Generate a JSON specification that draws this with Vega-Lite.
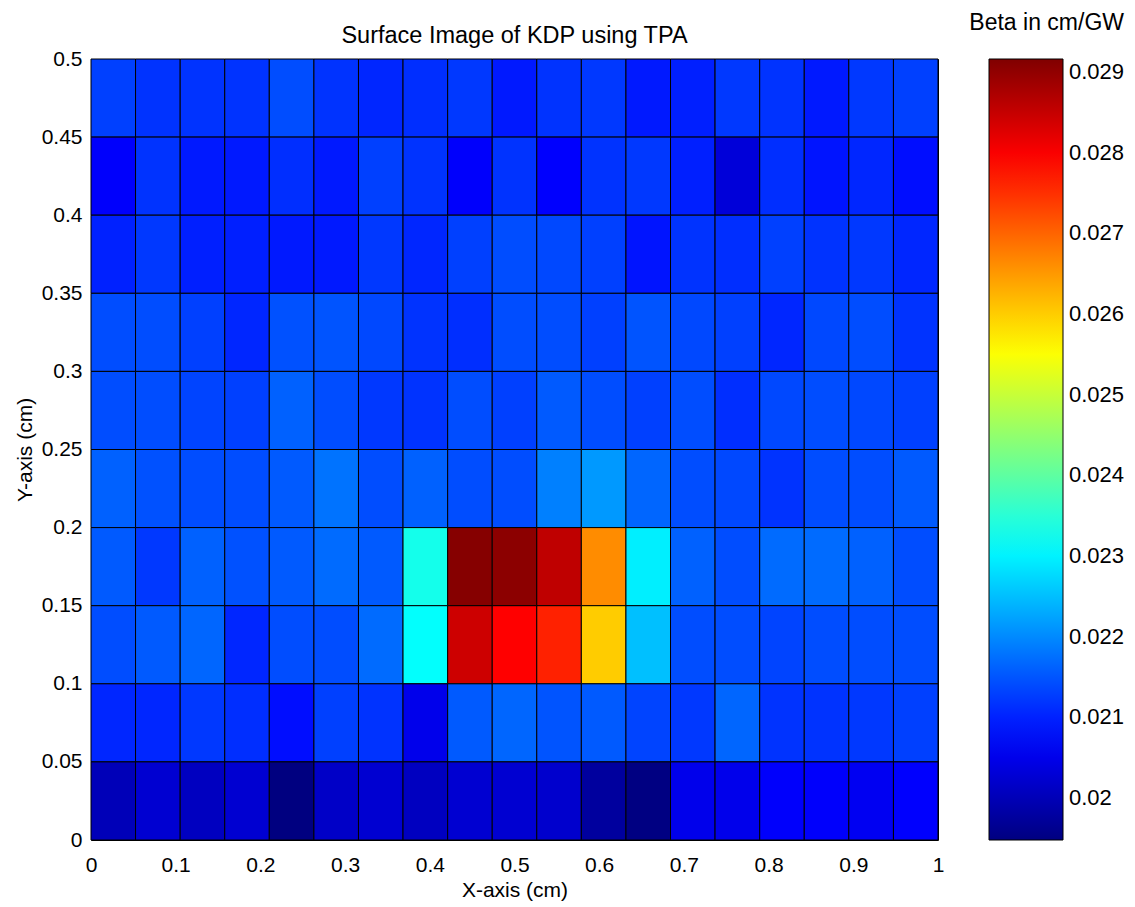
{
  "$schema": "https://vega.github.io/schema/vega-lite/v6.json",
  "width": 847,
  "height": 781,
  "autosize": {"type": "none"},
  "padding": {"left": 91, "top": 59, "right": 197, "bottom": 67},
  "background": "white",
  "title": {"text": "Surface Image of KDP using TPA", "fontSize": 23.5, "fontWeight": "normal", "font": "Liberation Sans", "anchor": "middle", "frame": "group", "offset": 0, "dy": 35, "color": "black"},
  "data": {"values": [
    {"x0":0,"x1":0.0526,"y0":0.45,"y1":0.5,"beta":0.02130},
    {"x0":0.0526,"x1":0.1053,"y0":0.45,"y1":0.5,"beta":0.02117},
    {"x0":0.1053,"x1":0.1579,"y0":0.45,"y1":0.5,"beta":0.02117},
    {"x0":0.1579,"x1":0.2105,"y0":0.45,"y1":0.5,"beta":0.02117},
    {"x0":0.2105,"x1":0.2632,"y0":0.45,"y1":0.5,"beta":0.02142},
    {"x0":0.2632,"x1":0.3158,"y0":0.45,"y1":0.5,"beta":0.02117},
    {"x0":0.3158,"x1":0.3684,"y0":0.45,"y1":0.5,"beta":0.02105},
    {"x0":0.3684,"x1":0.4211,"y0":0.45,"y1":0.5,"beta":0.02113},
    {"x0":0.4211,"x1":0.4737,"y0":0.45,"y1":0.5,"beta":0.02122},
    {"x0":0.4737,"x1":0.5263,"y0":0.45,"y1":0.5,"beta":0.02093},
    {"x0":0.5263,"x1":0.5789,"y0":0.45,"y1":0.5,"beta":0.02117},
    {"x0":0.5789,"x1":0.6316,"y0":0.45,"y1":0.5,"beta":0.02122},
    {"x0":0.6316,"x1":0.6842,"y0":0.45,"y1":0.5,"beta":0.02093},
    {"x0":0.6842,"x1":0.7368,"y0":0.45,"y1":0.5,"beta":0.02098},
    {"x0":0.7368,"x1":0.7895,"y0":0.45,"y1":0.5,"beta":0.02122},
    {"x0":0.7895,"x1":0.8421,"y0":0.45,"y1":0.5,"beta":0.02117},
    {"x0":0.8421,"x1":0.8947,"y0":0.45,"y1":0.5,"beta":0.02093},
    {"x0":0.8947,"x1":0.9474,"y0":0.45,"y1":0.5,"beta":0.02122},
    {"x0":0.9474,"x1":1,"y0":0.45,"y1":0.5,"beta":0.02130},

    {"x0":0,"x1":0.0526,"y0":0.4,"y1":0.45,"beta":0.02066},
    {"x0":0.0526,"x1":0.1053,"y0":0.4,"y1":0.45,"beta":0.02117},
    {"x0":0.1053,"x1":0.1579,"y0":0.4,"y1":0.45,"beta":0.02093},
    {"x0":0.1579,"x1":0.2105,"y0":0.4,"y1":0.45,"beta":0.02093},
    {"x0":0.2105,"x1":0.2632,"y0":0.4,"y1":0.45,"beta":0.02113},
    {"x0":0.2632,"x1":0.3158,"y0":0.4,"y1":0.45,"beta":0.02093},
    {"x0":0.3158,"x1":0.3684,"y0":0.4,"y1":0.45,"beta":0.02130},
    {"x0":0.3684,"x1":0.4211,"y0":0.4,"y1":0.45,"beta":0.02117},
    {"x0":0.4211,"x1":0.4737,"y0":0.4,"y1":0.45,"beta":0.02066},
    {"x0":0.4737,"x1":0.5263,"y0":0.4,"y1":0.45,"beta":0.02117},
    {"x0":0.5263,"x1":0.5789,"y0":0.4,"y1":0.45,"beta":0.02068},
    {"x0":0.5789,"x1":0.6316,"y0":0.4,"y1":0.45,"beta":0.02117},
    {"x0":0.6316,"x1":0.6842,"y0":0.4,"y1":0.45,"beta":0.02122},
    {"x0":0.6842,"x1":0.7368,"y0":0.4,"y1":0.45,"beta":0.02098},
    {"x0":0.7368,"x1":0.7895,"y0":0.4,"y1":0.45,"beta":0.02033},
    {"x0":0.7895,"x1":0.8421,"y0":0.4,"y1":0.45,"beta":0.02113},
    {"x0":0.8421,"x1":0.8947,"y0":0.4,"y1":0.45,"beta":0.02088},
    {"x0":0.8947,"x1":0.9474,"y0":0.4,"y1":0.45,"beta":0.02105},
    {"x0":0.9474,"x1":1,"y0":0.4,"y1":0.45,"beta":0.02081},

    {"x0":0,"x1":0.0526,"y0":0.35,"y1":0.4,"beta":0.02100},
    {"x0":0.0526,"x1":0.1053,"y0":0.35,"y1":0.4,"beta":0.02122},
    {"x0":0.1053,"x1":0.1579,"y0":0.35,"y1":0.4,"beta":0.02098},
    {"x0":0.1579,"x1":0.2105,"y0":0.35,"y1":0.4,"beta":0.02098},
    {"x0":0.2105,"x1":0.2632,"y0":0.35,"y1":0.4,"beta":0.02093},
    {"x0":0.2632,"x1":0.3158,"y0":0.35,"y1":0.4,"beta":0.02093},
    {"x0":0.3158,"x1":0.3684,"y0":0.35,"y1":0.4,"beta":0.02122},
    {"x0":0.3684,"x1":0.4211,"y0":0.35,"y1":0.4,"beta":0.02105},
    {"x0":0.4211,"x1":0.4737,"y0":0.35,"y1":0.4,"beta":0.02130},
    {"x0":0.4737,"x1":0.5263,"y0":0.35,"y1":0.4,"beta":0.02142},
    {"x0":0.5263,"x1":0.5789,"y0":0.35,"y1":0.4,"beta":0.02137},
    {"x0":0.5789,"x1":0.6316,"y0":0.35,"y1":0.4,"beta":0.02130},
    {"x0":0.6316,"x1":0.6842,"y0":0.35,"y1":0.4,"beta":0.02088},
    {"x0":0.6842,"x1":0.7368,"y0":0.35,"y1":0.4,"beta":0.02117},
    {"x0":0.7368,"x1":0.7895,"y0":0.35,"y1":0.4,"beta":0.02113},
    {"x0":0.7895,"x1":0.8421,"y0":0.35,"y1":0.4,"beta":0.02130},
    {"x0":0.8421,"x1":0.8947,"y0":0.35,"y1":0.4,"beta":0.02117},
    {"x0":0.8947,"x1":0.9474,"y0":0.35,"y1":0.4,"beta":0.02122},
    {"x0":0.9474,"x1":1,"y0":0.35,"y1":0.4,"beta":0.02105},

    {"x0":0,"x1":0.0526,"y0":0.3,"y1":0.35,"beta":0.02142},
    {"x0":0.0526,"x1":0.1053,"y0":0.3,"y1":0.35,"beta":0.02142},
    {"x0":0.1053,"x1":0.1579,"y0":0.3,"y1":0.35,"beta":0.02130},
    {"x0":0.1579,"x1":0.2105,"y0":0.3,"y1":0.35,"beta":0.02105},
    {"x0":0.2105,"x1":0.2632,"y0":0.3,"y1":0.35,"beta":0.02146},
    {"x0":0.2632,"x1":0.3158,"y0":0.3,"y1":0.35,"beta":0.02149},
    {"x0":0.3158,"x1":0.3684,"y0":0.3,"y1":0.35,"beta":0.02137},
    {"x0":0.3684,"x1":0.4211,"y0":0.3,"y1":0.35,"beta":0.02117},
    {"x0":0.4211,"x1":0.4737,"y0":0.3,"y1":0.35,"beta":0.02113},
    {"x0":0.4737,"x1":0.5263,"y0":0.3,"y1":0.35,"beta":0.02142},
    {"x0":0.5263,"x1":0.5789,"y0":0.3,"y1":0.35,"beta":0.02142},
    {"x0":0.5789,"x1":0.6316,"y0":0.3,"y1":0.35,"beta":0.02130},
    {"x0":0.6316,"x1":0.6842,"y0":0.3,"y1":0.35,"beta":0.02149},
    {"x0":0.6842,"x1":0.7368,"y0":0.3,"y1":0.35,"beta":0.02137},
    {"x0":0.7368,"x1":0.7895,"y0":0.3,"y1":0.35,"beta":0.02130},
    {"x0":0.7895,"x1":0.8421,"y0":0.3,"y1":0.35,"beta":0.02105},
    {"x0":0.8421,"x1":0.8947,"y0":0.3,"y1":0.35,"beta":0.02137},
    {"x0":0.8947,"x1":0.9474,"y0":0.3,"y1":0.35,"beta":0.02142},
    {"x0":0.9474,"x1":1,"y0":0.3,"y1":0.35,"beta":0.02117},

    {"x0":0,"x1":0.0526,"y0":0.25,"y1":0.3,"beta":0.02142},
    {"x0":0.0526,"x1":0.1053,"y0":0.25,"y1":0.3,"beta":0.02142},
    {"x0":0.1053,"x1":0.1579,"y0":0.25,"y1":0.3,"beta":0.02134},
    {"x0":0.1579,"x1":0.2105,"y0":0.25,"y1":0.3,"beta":0.02130},
    {"x0":0.2105,"x1":0.2632,"y0":0.25,"y1":0.3,"beta":0.02161},
    {"x0":0.2632,"x1":0.3158,"y0":0.25,"y1":0.3,"beta":0.02142},
    {"x0":0.3158,"x1":0.3684,"y0":0.25,"y1":0.3,"beta":0.02122},
    {"x0":0.3684,"x1":0.4211,"y0":0.25,"y1":0.3,"beta":0.02117},
    {"x0":0.4211,"x1":0.4737,"y0":0.25,"y1":0.3,"beta":0.02142},
    {"x0":0.4737,"x1":0.5263,"y0":0.25,"y1":0.3,"beta":0.02130},
    {"x0":0.5263,"x1":0.5789,"y0":0.25,"y1":0.3,"beta":0.02154},
    {"x0":0.5789,"x1":0.6316,"y0":0.25,"y1":0.3,"beta":0.02142},
    {"x0":0.6316,"x1":0.6842,"y0":0.25,"y1":0.3,"beta":0.02130},
    {"x0":0.6842,"x1":0.7368,"y0":0.25,"y1":0.3,"beta":0.02142},
    {"x0":0.7368,"x1":0.7895,"y0":0.25,"y1":0.3,"beta":0.02113},
    {"x0":0.7895,"x1":0.8421,"y0":0.25,"y1":0.3,"beta":0.02137},
    {"x0":0.8421,"x1":0.8947,"y0":0.25,"y1":0.3,"beta":0.02142},
    {"x0":0.8947,"x1":0.9474,"y0":0.25,"y1":0.3,"beta":0.02137},
    {"x0":0.9474,"x1":1,"y0":0.25,"y1":0.3,"beta":0.02130},

    {"x0":0,"x1":0.0526,"y0":0.2,"y1":0.25,"beta":0.02161},
    {"x0":0.0526,"x1":0.1053,"y0":0.2,"y1":0.25,"beta":0.02146},
    {"x0":0.1053,"x1":0.1579,"y0":0.2,"y1":0.25,"beta":0.02142},
    {"x0":0.1579,"x1":0.2105,"y0":0.2,"y1":0.25,"beta":0.02142},
    {"x0":0.2105,"x1":0.2632,"y0":0.2,"y1":0.25,"beta":0.02154},
    {"x0":0.2632,"x1":0.3158,"y0":0.2,"y1":0.25,"beta":0.02178},
    {"x0":0.3158,"x1":0.3684,"y0":0.2,"y1":0.25,"beta":0.02142},
    {"x0":0.3684,"x1":0.4211,"y0":0.2,"y1":0.25,"beta":0.02161},
    {"x0":0.4211,"x1":0.4737,"y0":0.2,"y1":0.25,"beta":0.02142},
    {"x0":0.4737,"x1":0.5263,"y0":0.2,"y1":0.25,"beta":0.02142},
    {"x0":0.5263,"x1":0.5789,"y0":0.2,"y1":0.25,"beta":0.02190},
    {"x0":0.5789,"x1":0.6316,"y0":0.2,"y1":0.25,"beta":0.02214},
    {"x0":0.6316,"x1":0.6842,"y0":0.2,"y1":0.25,"beta":0.02166},
    {"x0":0.6842,"x1":0.7368,"y0":0.2,"y1":0.25,"beta":0.02142},
    {"x0":0.7368,"x1":0.7895,"y0":0.2,"y1":0.25,"beta":0.02137},
    {"x0":0.7895,"x1":0.8421,"y0":0.2,"y1":0.25,"beta":0.02117},
    {"x0":0.8421,"x1":0.8947,"y0":0.2,"y1":0.25,"beta":0.02142},
    {"x0":0.8947,"x1":0.9474,"y0":0.2,"y1":0.25,"beta":0.02142},
    {"x0":0.9474,"x1":1,"y0":0.2,"y1":0.25,"beta":0.02154},

    {"x0":0,"x1":0.0526,"y0":0.15,"y1":0.2,"beta":0.02154},
    {"x0":0.0526,"x1":0.1053,"y0":0.15,"y1":0.2,"beta":0.02122},
    {"x0":0.1053,"x1":0.1579,"y0":0.15,"y1":0.2,"beta":0.02161},
    {"x0":0.1579,"x1":0.2105,"y0":0.15,"y1":0.2,"beta":0.02146},
    {"x0":0.2105,"x1":0.2632,"y0":0.15,"y1":0.2,"beta":0.02154},
    {"x0":0.2632,"x1":0.3158,"y0":0.15,"y1":0.2,"beta":0.02171},
    {"x0":0.3158,"x1":0.3684,"y0":0.15,"y1":0.2,"beta":0.02154},
    {"x0":0.3684,"x1":0.4211,"y0":0.15,"y1":0.2,"beta":0.02330},
    {"x0":0.4211,"x1":0.4737,"y0":0.15,"y1":0.2,"beta":0.02910},
    {"x0":0.4737,"x1":0.5263,"y0":0.15,"y1":0.2,"beta":0.02905},
    {"x0":0.5263,"x1":0.5789,"y0":0.15,"y1":0.2,"beta":0.02856},
    {"x0":0.5789,"x1":0.6316,"y0":0.15,"y1":0.2,"beta":0.02662},
    {"x0":0.6316,"x1":0.6842,"y0":0.15,"y1":0.2,"beta":0.02296},
    {"x0":0.6842,"x1":0.7368,"y0":0.15,"y1":0.2,"beta":0.02161},
    {"x0":0.7368,"x1":0.7895,"y0":0.15,"y1":0.2,"beta":0.02142},
    {"x0":0.7895,"x1":0.8421,"y0":0.15,"y1":0.2,"beta":0.02171},
    {"x0":0.8421,"x1":0.8947,"y0":0.15,"y1":0.2,"beta":0.02171},
    {"x0":0.8947,"x1":0.9474,"y0":0.15,"y1":0.2,"beta":0.02161},
    {"x0":0.9474,"x1":1,"y0":0.15,"y1":0.2,"beta":0.02142},

    {"x0":0,"x1":0.0526,"y0":0.1,"y1":0.15,"beta":0.02142},
    {"x0":0.0526,"x1":0.1053,"y0":0.1,"y1":0.15,"beta":0.02154},
    {"x0":0.1053,"x1":0.1579,"y0":0.1,"y1":0.15,"beta":0.02166},
    {"x0":0.1579,"x1":0.2105,"y0":0.1,"y1":0.15,"beta":0.02105},
    {"x0":0.2105,"x1":0.2632,"y0":0.1,"y1":0.15,"beta":0.02142},
    {"x0":0.2632,"x1":0.3158,"y0":0.1,"y1":0.15,"beta":0.02142},
    {"x0":0.3158,"x1":0.3684,"y0":0.1,"y1":0.15,"beta":0.02171},
    {"x0":0.3684,"x1":0.4211,"y0":0.1,"y1":0.15,"beta":0.02313},
    {"x0":0.4211,"x1":0.4737,"y0":0.1,"y1":0.15,"beta":0.02843},
    {"x0":0.4737,"x1":0.5263,"y0":0.1,"y1":0.15,"beta":0.02795},
    {"x0":0.5263,"x1":0.5789,"y0":0.1,"y1":0.15,"beta":0.02764},
    {"x0":0.5789,"x1":0.6316,"y0":0.1,"y1":0.15,"beta":0.02601},
    {"x0":0.6316,"x1":0.6842,"y0":0.1,"y1":0.15,"beta":0.02251},
    {"x0":0.6842,"x1":0.7368,"y0":0.1,"y1":0.15,"beta":0.02142},
    {"x0":0.7368,"x1":0.7895,"y0":0.1,"y1":0.15,"beta":0.02142},
    {"x0":0.7895,"x1":0.8421,"y0":0.1,"y1":0.15,"beta":0.02134},
    {"x0":0.8421,"x1":0.8947,"y0":0.1,"y1":0.15,"beta":0.02142},
    {"x0":0.8947,"x1":0.9474,"y0":0.1,"y1":0.15,"beta":0.02142},
    {"x0":0.9474,"x1":1,"y0":0.1,"y1":0.15,"beta":0.02142},

    {"x0":0,"x1":0.0526,"y0":0.05,"y1":0.1,"beta":0.02105},
    {"x0":0.0526,"x1":0.1053,"y0":0.05,"y1":0.1,"beta":0.02105},
    {"x0":0.1053,"x1":0.1579,"y0":0.05,"y1":0.1,"beta":0.02122},
    {"x0":0.1579,"x1":0.2105,"y0":0.05,"y1":0.1,"beta":0.02113},
    {"x0":0.2105,"x1":0.2632,"y0":0.05,"y1":0.1,"beta":0.02081},
    {"x0":0.2632,"x1":0.3158,"y0":0.05,"y1":0.1,"beta":0.02130},
    {"x0":0.3158,"x1":0.3684,"y0":0.05,"y1":0.1,"beta":0.02117},
    {"x0":0.3684,"x1":0.4211,"y0":0.05,"y1":0.1,"beta":0.02050},
    {"x0":0.4211,"x1":0.4737,"y0":0.05,"y1":0.1,"beta":0.02154},
    {"x0":0.4737,"x1":0.5263,"y0":0.05,"y1":0.1,"beta":0.02166},
    {"x0":0.5263,"x1":0.5789,"y0":0.05,"y1":0.1,"beta":0.02149},
    {"x0":0.5789,"x1":0.6316,"y0":0.05,"y1":0.1,"beta":0.02154},
    {"x0":0.6316,"x1":0.6842,"y0":0.05,"y1":0.1,"beta":0.02134},
    {"x0":0.6842,"x1":0.7368,"y0":0.05,"y1":0.1,"beta":0.02122},
    {"x0":0.7368,"x1":0.7895,"y0":0.05,"y1":0.1,"beta":0.02166},
    {"x0":0.7895,"x1":0.8421,"y0":0.05,"y1":0.1,"beta":0.02117},
    {"x0":0.8421,"x1":0.8947,"y0":0.05,"y1":0.1,"beta":0.02117},
    {"x0":0.8947,"x1":0.9474,"y0":0.05,"y1":0.1,"beta":0.02122},
    {"x0":0.9474,"x1":1,"y0":0.05,"y1":0.1,"beta":0.02130},

    {"x0":0,"x1":0.0526,"y0":0,"y1":0.05,"beta":0.02001},
    {"x0":0.0526,"x1":0.1053,"y0":0,"y1":0.05,"beta":0.02025},
    {"x0":0.1053,"x1":0.1579,"y0":0,"y1":0.05,"beta":0.02009},
    {"x0":0.1579,"x1":0.2105,"y0":0,"y1":0.05,"beta":0.02025},
    {"x0":0.2105,"x1":0.2632,"y0":0,"y1":0.05,"beta":0.01948},
    {"x0":0.2632,"x1":0.3158,"y0":0,"y1":0.05,"beta":0.02016},
    {"x0":0.3158,"x1":0.3684,"y0":0,"y1":0.05,"beta":0.02025},
    {"x0":0.3684,"x1":0.4211,"y0":0,"y1":0.05,"beta":0.02009},
    {"x0":0.4211,"x1":0.4737,"y0":0,"y1":0.05,"beta":0.02025},
    {"x0":0.4737,"x1":0.5263,"y0":0,"y1":0.05,"beta":0.02025},
    {"x0":0.5263,"x1":0.5789,"y0":0,"y1":0.05,"beta":0.02021},
    {"x0":0.5789,"x1":0.6316,"y0":0,"y1":0.05,"beta":0.01977},
    {"x0":0.6316,"x1":0.6842,"y0":0,"y1":0.05,"beta":0.01950},
    {"x0":0.6842,"x1":0.7368,"y0":0,"y1":0.05,"beta":0.02050},
    {"x0":0.7368,"x1":0.7895,"y0":0,"y1":0.05,"beta":0.02050},
    {"x0":0.7895,"x1":0.8421,"y0":0,"y1":0.05,"beta":0.02066},
    {"x0":0.8421,"x1":0.8947,"y0":0,"y1":0.05,"beta":0.02066},
    {"x0":0.8947,"x1":0.9474,"y0":0,"y1":0.05,"beta":0.02057},
    {"x0":0.9474,"x1":1,"y0":0,"y1":0.05,"beta":0.02068}
  ]},
  "mark": {"type": "rect", "stroke": "black", "strokeWidth": 1},
  "encoding": {
    "x": {"field": "x0", "type": "quantitative",
      "scale": {"domain": [0, 1], "nice": false, "zero": false},
      "axis": {"title": "X-axis (cm)", "values": [0, 0.1, 0.2, 0.3, 0.4, 0.5, 0.6, 0.7, 0.8, 0.9, 1], "format": ".1~f",
        "labelFontSize": 21, "titleFontSize": 21, "titleFontWeight": "normal", "labelFont": "Liberation Sans", "titleFont": "Liberation Sans",
        "ticks": false, "domain": false, "grid": false, "labelPadding": 14, "titlePadding": 4, "labelFlush": false, "labelOverlap": false,
        "labelColor": "black", "titleColor": "black"}},
    "x2": {"field": "x1"},
    "y": {"field": "y0", "type": "quantitative",
      "scale": {"domain": [0, 0.5], "nice": false, "zero": false},
      "axis": {"title": "Y-axis (cm)", "values": [0, 0.05, 0.1, 0.15, 0.2, 0.25, 0.3, 0.35, 0.4, 0.45, 0.5], "format": ".2~f",
        "labelFontSize": 21, "titleFontSize": 21, "titleFontWeight": "normal", "labelFont": "Liberation Sans", "titleFont": "Liberation Sans",
        "ticks": false, "domain": false, "grid": false, "labelPadding": 9, "titlePadding": 6, "labelFlush": false, "labelOverlap": false,
        "labelColor": "black", "titleColor": "black"}},
    "y2": {"field": "y1"},
    "color": {"field": "beta", "type": "quantitative",
      "scale": {"domain": [0.01948, 0.02069, 0.02311, 0.02553, 0.02795, 0.02916],
        "range": ["#000080", "#0000ff", "#00ffff", "#ffff00", "#ff0000", "#800000"], "interpolate": "rgb"},
      "legend": {"title": "Beta in cm/GW", "orient": "none", "legendX": 878, "legendY": -47, "direction": "vertical",
        "gradientLength": 781, "gradientThickness": 74, "gradientStrokeColor": "black", "gradientStrokeWidth": 1,
        "values": [0.02, 0.021, 0.022, 0.023, 0.024, 0.025, 0.026, 0.027, 0.028, 0.029], "format": ".3~f",
        "labelFontSize": 22, "labelFont": "Liberation Sans", "labelOffset": 6, "labelOverlap": false, "labelColor": "black",
        "titleFontSize": 23, "titleFont": "Liberation Sans", "titleFontWeight": "normal", "titleColor": "black",
        "titlePadding": 24, "titleAnchor": "end", "padding": 0}}
  },
  "config": {"view": {"stroke": "black"}, "font": "Liberation Sans"}
}
